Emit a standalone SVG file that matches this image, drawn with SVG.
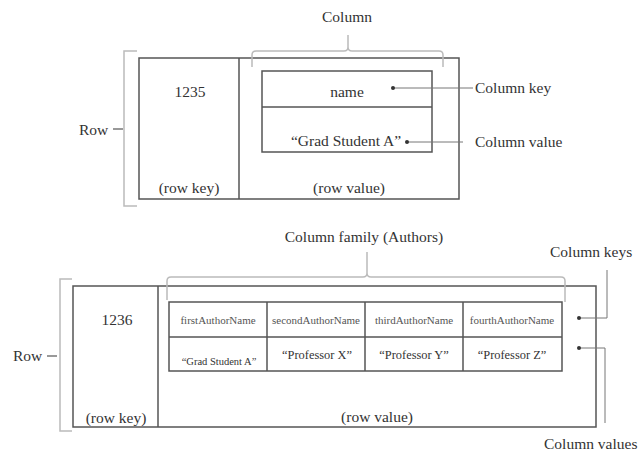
<svg xmlns="http://www.w3.org/2000/svg" width="641" height="453" viewBox="0 0 641 453">
<style>
text{font-family:"Liberation Serif","Times New Roman",serif;fill:#333;}
.t{font-size:15.5px;}
.c{text-anchor:middle;}
.k{font-size:11px;fill:#555;}
.v{font-size:12.4px;}
.box{fill:none;stroke:#555;stroke-width:1.5;}
.br{fill:none;stroke:#bbb;stroke-width:1.5;}
.ln{fill:none;stroke:#777;stroke-width:1;}
.dash{stroke:#555;stroke-width:1.2;}
</style>
<rect width="641" height="453" fill="#fff"/>

<g id="row1">
  <rect class="box" x="139" y="58" width="320" height="141"/>
  <line class="box" x1="239" y1="58" x2="239" y2="199"/>
  <text class="t c" x="190" y="97">1235</text>
  <text class="t c" x="189" y="193">(row key)</text>
  <text class="t c" x="349" y="193">(row value)</text>
</g>
<g id="column1">
  <rect class="box" x="262" y="71" width="170" height="81"/>
  <line class="box" x1="262" y1="107" x2="432" y2="107"/>
  <text class="t c" x="347" y="97">name</text>
  <text class="t c" x="346" y="146">“Grad Student A”</text>
</g>
<g id="brace-row1">
  <path class="br" d="M137,51 H124 V206 H137"/>
  <line class="dash" x1="113" y1="129" x2="123" y2="129"/>
  <text class="t" x="79" y="135">Row</text>
</g>
<g id="brace-column1">
  <path class="br" d="M252,67 V55 Q252,51 256,51 H344 Q348,51 348,47 V35 M348,47 Q348,51 352,51 H439 Q443,51 443,55 V67"/>
  <text class="t c" x="347" y="22">Column</text>
</g>
<g id="label-ck"><text class="t" x="475" y="93">Column key</text></g>
<g id="label-cv"><text class="t" x="475" y="147">Column value</text></g>

<g id="row2">
  <rect class="box" x="73" y="286" width="523" height="141"/>
  <line class="box" x1="158" y1="286" x2="158" y2="427"/>
  <text class="t c" x="117" y="325">1236</text>
  <text class="t c" x="116" y="423">(row key)</text>
  <text class="t c" x="377" y="422">(row value)</text>
</g>
<g id="family">
  <rect class="box" x="169" y="302" width="393" height="69"/>
  <line class="box" x1="169" y1="337" x2="562" y2="337"/>
  <line class="box" x1="267" y1="302" x2="267" y2="371"/>
  <line class="box" x1="365" y1="302" x2="365" y2="371"/>
  <line class="box" x1="463" y1="302" x2="463" y2="371"/>
  <text class="k c" x="218" y="324">firstAuthorName</text>
  <text class="k c" x="316" y="324">secondAuthorName</text>
  <text class="k c" x="414" y="324">thirdAuthorName</text>
  <text class="k c" x="512" y="324">fourthAuthorName</text>
  <text class="c" x="219" y="365" style="font-size:10.5px">“Grad Student A”</text>
  <text class="v c" x="317" y="359">“Professor X”</text>
  <text class="v c" x="414" y="359">“Professor Y”</text>
  <text class="v c" x="512" y="359">“Professor Z”</text>
</g>
<g id="brace-row2">
  <path class="br" d="M72,279 H60 V431 H72"/>
  <line class="dash" x1="47" y1="356" x2="57" y2="356"/>
  <text class="t" x="13" y="361">Row</text>
</g>
<g id="brace-family">
  <path class="br" d="M167,300 V281 Q167,277 171,277 H363 Q367,277 367,273 V252 M367,273 Q367,277 371,277 H561 Q565,277 565,281 V302"/>
  <text class="t c" x="364" y="242">Column family (Authors)</text>
</g>
<g id="label-cks"><text class="t" x="550" y="257">Column keys</text></g>
<g id="label-cvs"><text class="t" x="544" y="449">Column values</text></g>

<g id="connectors">
  <line class="ln" x1="393" y1="88" x2="473" y2="88"/>
  <circle cx="393" cy="88" r="2" fill="#333"/>
  <line class="ln" x1="407" y1="142" x2="463" y2="142"/>
  <circle cx="407" cy="142" r="2" fill="#333"/>
  <polyline class="ln" points="607,270 607,318 579,318"/>
  <circle cx="579" cy="318" r="2" fill="#333"/>
  <polyline class="ln" points="579,348 605,348 605,423"/>
  <circle cx="579" cy="348" r="2" fill="#333"/>
</g>
</svg>
